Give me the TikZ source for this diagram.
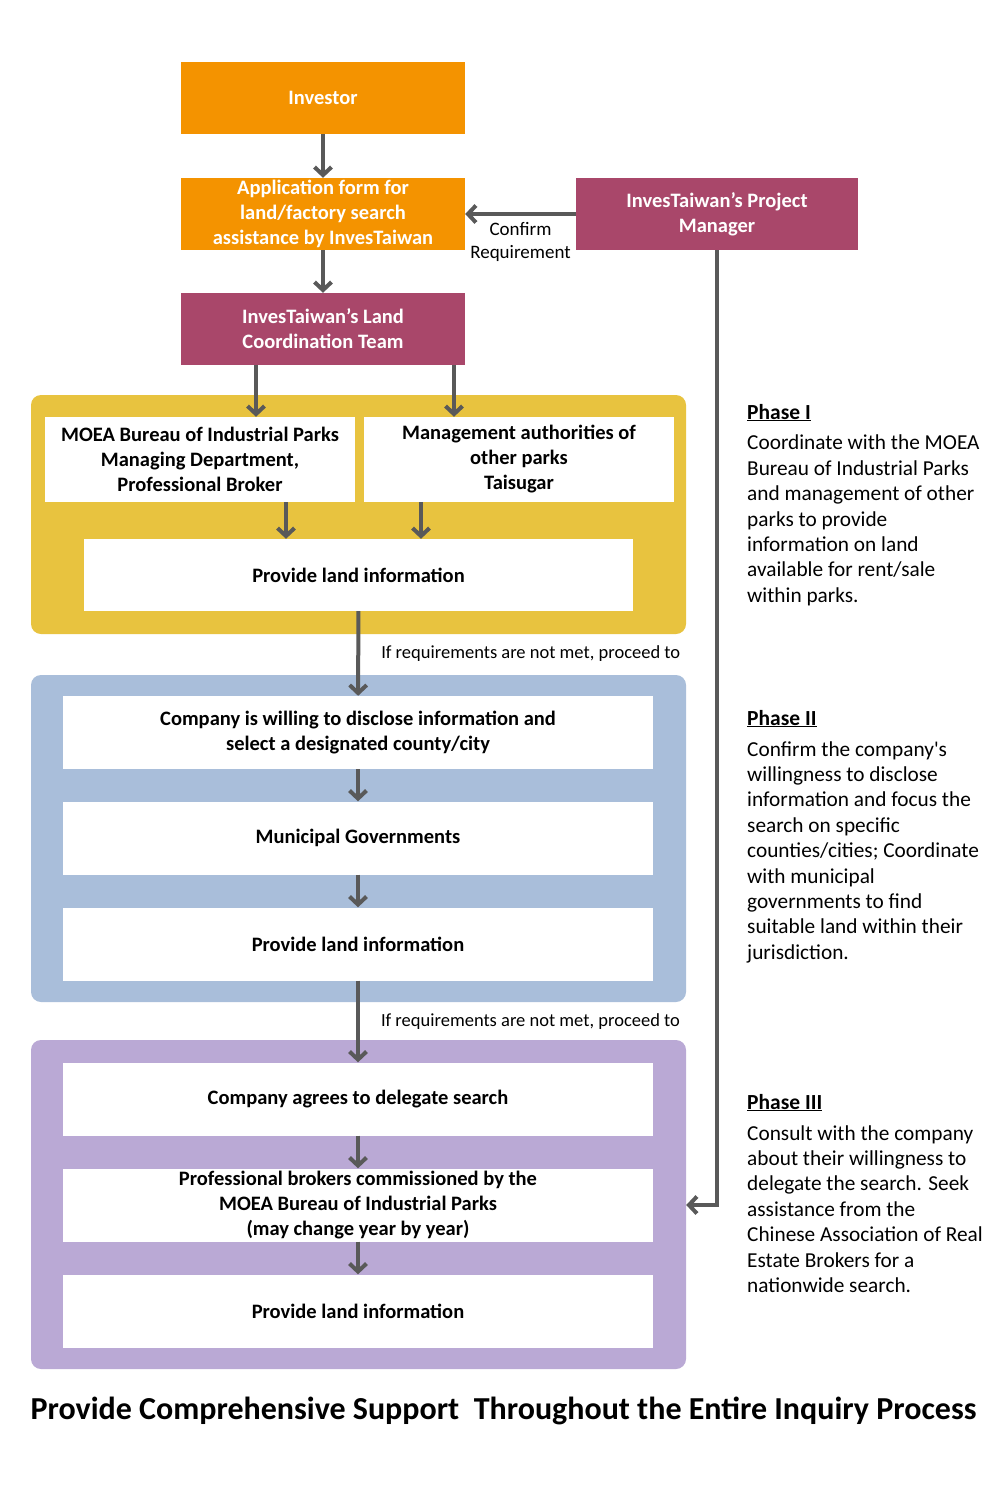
\documentclass[tikz,border=0pt]{standalone}
\usepackage{fontspec}
\setmainfont{Carlito}
\usetikzlibrary{arrows.meta,positioning,calc}

\definecolor{invorange}{HTML}{F49300}
\definecolor{invred}{HTML}{A9476A}
\definecolor{grpyellow}{HTML}{E8C33F}
\definecolor{grpblue}{HTML}{A9BEDA}
\definecolor{grppurple}{HTML}{BAA9D5}
\definecolor{flowgray}{HTML}{595959}

\tikzset{
  box/.style={inner sep=2pt, align=center, minimum width=284pt, minimum height=72pt,
    font=\bfseries\fontsize{20.5}{25}\selectfont},
  orangebox/.style={box, fill=invorange, text=white},
  redbox/.style={box, fill=invred, text=white},
  whitebox/.style={box, fill=white, text=black, minimum width=590pt, minimum height=73pt},
  group/.style={rounded corners=10pt, inner sep=0pt, minimum width=655pt},
  flow/.style={draw=flowgray, line width=4pt, -{Straight Barb[length=8pt,width=17pt]}},
  note/.style={font=\fontsize{18.5}{22}\selectfont, inner sep=0pt},
  phasehead/.style={anchor=base west, inner sep=0pt, font=\bfseries\fontsize{21.5}{25}\selectfont},
  phasetext/.style={anchor=north west, inner sep=0pt, align=left,
    font=\fontsize{21.3}{25.4}\selectfont}
}

\begin{document}
\begin{tikzpicture}[x=1pt,y=-1pt]
  \useasboundingbox[fill=white] (0,0) rectangle (1008,1485);

  % phase backgrounds
  \node[group, fill=grpyellow, minimum height=239pt] (grpA) at (358.5,514.5) {};
  \node[group, fill=grpblue, minimum height=327pt] (grpB) at (358.5,838.5) {};
  \node[group, fill=grppurple, minimum height=329pt] (grpC) at (358.5,1204.5) {};

  % top of the chart
  \node[orangebox] (investor) at (323,98) {Investor};
  \node[orangebox] (appform) at (323,214) {Application form for\\land/factory search\\assistance by InvesTaiwan};
  \node[redbox, minimum width=282pt] (pm) at (717,214) {InvesTaiwan’s Project\\Manager};
  \node[redbox] (landteam) at (323,329) {InvesTaiwan’s Land\\Coordination Team};

  % phase I
  \node[whitebox, minimum width=310pt, minimum height=85pt] (moea) at (200,459.5) {MOEA Bureau of Industrial Parks\\Managing Department,\\Professional Broker};
  \node[whitebox, minimum width=310pt, minimum height=85pt] (mgmt) at (519,459.5) {Management authorities of\\other parks\\Taisugar};
  \node[whitebox, minimum width=549pt, minimum height=72pt] (infoA) at (358.5,575) {Provide land information};

  % phase II
  \node[whitebox] (willing) at (358,732.5) {Company is willing to disclose information and\\select a designated county/city};
  \node[whitebox] (municipal) at (358,838) {Municipal Governments};
  \node[whitebox] (infoB) at (358,944) {Provide land information};

  % phase III
  \node[whitebox] (delegate) at (358,1099) {Company agrees to delegate search};
  \node[whitebox] (brokers) at (358,1205) {Professional brokers commissioned by the\\MOEA Bureau of Industrial Parks\\(may change year by year)};
  \node[whitebox] (infoC) at (358,1311) {Provide land information};

  % connectors
  \draw[flow] (investor) -- (appform);
  \draw[flow] (appform) -- (landteam);
  \draw[flow] (pm) -- (appform)
    node[midway, below=6pt, align=center, font=\fontsize{19}{23}\selectfont, inner sep=0pt] {Confirm\\Requirement};
  \draw[flow] ([xshift=-67pt]landteam.south) -- ([xshift=-67pt]landteam.south |- moea.north);
  \draw[flow] ([xshift=131pt]landteam.south) -- ([xshift=131pt]landteam.south |- mgmt.north);
  \draw[flow] ([xshift=86pt]moea.south) -- ([xshift=86pt]moea.south |- infoA.north);
  \draw[flow] ([xshift=-98pt]mgmt.south) -- ([xshift=-98pt]mgmt.south |- infoA.north);
  \draw[flow] (infoA) -- (willing) node[midway, right=21pt, note] {If requirements are not met, proceed to};
  \draw[flow] (willing) -- (municipal);
  \draw[flow] (municipal) -- (infoB);
  \draw[flow] (infoB) -- (delegate) node[midway, right=21pt, note] {If requirements are not met, proceed to};
  \draw[flow] (delegate) -- (brokers);
  \draw[flow] (brokers) -- (infoC);
  \draw[flow] (pm) |- (grpC.east |- brokers.center);

  % phase notes
  \node[phasehead] (phaseA) at (747,419) {\underline{Phase I}};
  \node[phasetext] (phaseAtext) at (747,435) {Coordinate with the MOEA\\Bureau of Industrial Parks\\and management of other\\parks to provide\\information on land\\available for rent/sale\\within parks.};
  \node[phasehead] (phaseB) at (747,725) {\underline{Phase II}};
  \node[phasetext] (phaseBtext) at (747,741) {Confirm the company\textquotesingle s\\willingness to disclose\\information and focus the\\search on specific\\counties/cities; Coordinate\\with municipal\\governments to find\\suitable land within their\\jurisdiction.};
  \node[phasehead] (phaseC) at (747,1109) {\underline{Phase III}};
  \node[phasetext] (phaseCtext) at (747,1125) {Consult with the company\\about their willingness to\\delegate the search. Seek\\assistance from the\\Chinese Association of Real\\Estate Brokers for a\\nationwide search.};

  % title
  \node[font=\bfseries\fontsize{32}{36}\selectfont, inner sep=0pt] (title) at (503.5,1411) {Provide Comprehensive Support\ \ Throughout the Entire Inquiry Process};
\end{tikzpicture}
\end{document}
